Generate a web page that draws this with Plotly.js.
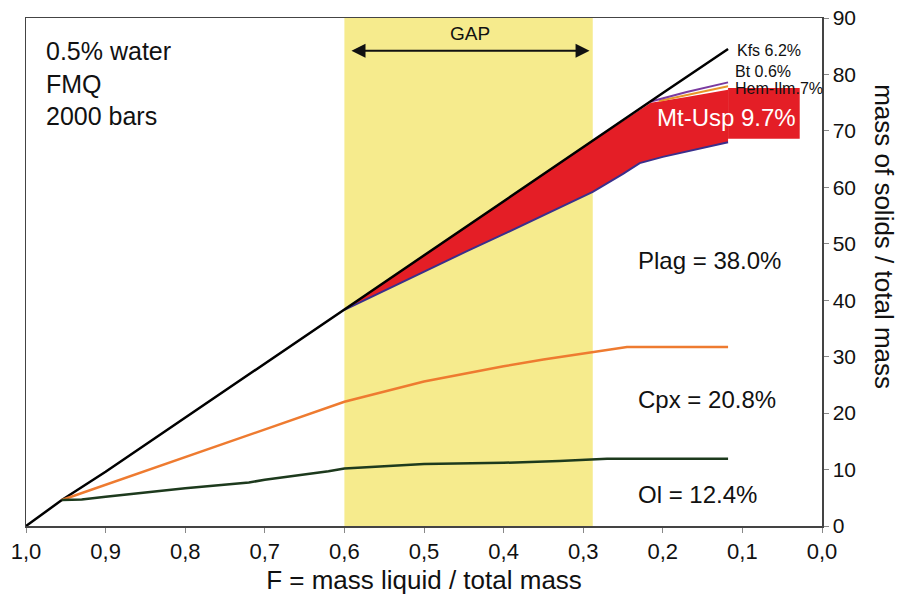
<!DOCTYPE html>
<html>
<head>
<meta charset="utf-8">
<script src="https://cdn.plot.ly/plotly-3.0.1.min.js"></script>
<style>html,body{margin:0;padding:0;background:#fff}#chart{width:907px;height:606px}</style>
</head>
<body>
<div id="chart"></div>
<script>
// ---- data (F = mass liquid / total mass, values = mass of solids / total mass) ----
const totalF   = [1.0, 0.955, 0.9, 0.8, 0.7, 0.6, 0.5, 0.4, 0.3, 0.2, 0.118];
const totalY   = [0, 4.6, 9.6, 19.2, 28.8, 38.3, 47.9, 57.5, 67.1, 76.7, 84.5];

const cpxF     = [0.955, 0.9, 0.8, 0.7, 0.6, 0.5, 0.4, 0.35, 0.3, 0.27, 0.245, 0.2, 0.118];
const cpxY     = [4.6, 7.3, 12.2, 17.2, 22.0, 25.6, 28.3, 29.5, 30.6, 31.2, 31.7, 31.7, 31.7];

const olF      = [0.955, 0.93, 0.9, 0.8, 0.72, 0.7, 0.62, 0.6, 0.5, 0.4, 0.33, 0.27, 0.2, 0.118];
const olY      = [4.6, 4.7, 5.2, 6.7, 7.7, 8.2, 9.7, 10.2, 11.0, 11.2, 11.5, 11.9, 11.9, 11.9];

const plagTopF = [0.6, 0.55, 0.5, 0.446, 0.4, 0.35, 0.3, 0.288, 0.25, 0.229, 0.2, 0.16, 0.118];
const plagTopY = [38.3, 41.7, 45.0, 48.7, 51.7, 55.1, 58.4, 59.2, 62.4, 64.3, 65.4, 66.7, 68.0];

const mtTopF   = [0.6, 0.5, 0.4, 0.3, 0.215, 0.17, 0.118];
const mtTopY   = [38.3, 47.9, 57.5, 67.1, 75.0, 76.0, 77.3];

const hemF     = [0.205, 0.17, 0.118];
const hemY     = [75.3, 76.4, 77.9];

const btF      = [0.215, 0.17, 0.118];
const btY      = [75.2, 76.9, 78.6];

const gapRange = [0.6, 0.288];
const mtLabelBox = {F: [0.118, 0.028], Y: [68.6, 77.6]};

const xTicks = [1.0, 0.9, 0.8, 0.7, 0.6, 0.5, 0.4, 0.3, 0.2, 0.1, 0.0];
const yTicks = [0, 10, 20, 30, 40, 50, 60, 70, 80, 90];

// ---- traces ----
const fillF = mtTopF.concat(plagTopF.slice().reverse());
const fillY = mtTopY.concat(plagTopY.slice().reverse());

const FONT = 'Liberation Sans, Arial, sans-serif';
const RED = '#e41e26';

const traces = [
  {x: fillF, y: fillY, mode: 'lines', fill: 'toself', fillcolor: RED,
   line: {width: 0, color: RED}, hoverinfo: 'skip'},
  {x: plagTopF, y: plagTopY, mode: 'lines', line: {color: '#3a2f8c', width: 2}},
  {x: hemF, y: hemY, mode: 'lines', line: {color: '#e8962a', width: 2}},
  {x: btF, y: btY, mode: 'lines', line: {color: '#7a3aa0', width: 2}},
  {x: totalF, y: totalY, mode: 'lines', line: {color: '#000000', width: 2.5}},
  {x: cpxF, y: cpxY, mode: 'lines', line: {color: '#ee7b30', width: 2.5}},
  {x: olF, y: olY, mode: 'lines', line: {color: '#1d3a1d', width: 2.5}}
];

const ann = (x, y, text, size, extra) => Object.assign({
  x: x, y: y, xref: 'x', yref: 'y', text: text, showarrow: false,
  font: {family: FONT, size: size, color: '#111'}, xanchor: 'left', yanchor: 'middle'
}, extra || {});

const layout = {
  width: 907, height: 606,
  margin: {l: 26, r: 85, t: 18, b: 80},
  paper_bgcolor: '#fff', plot_bgcolor: '#fff',
  showlegend: false,
  separators: ',.',
  font: {family: FONT, color: '#111'},
  xaxis: {
    range: [1.0, 0.0], tickvals: xTicks, tickformat: '.1f',
    showgrid: false, zeroline: false, showline: true, linecolor: '#444', linewidth: 1.5,
    mirror: true, ticks: 'outside', ticklen: 5, tickcolor: '#888',
    tickfont: {family: FONT, size: 22, color: '#111'},
    title: {text: 'F = mass liquid / total mass', font: {family: FONT, size: 26, color: '#111'}, standoff: 8}
  },
  yaxis: {
    range: [0, 90], tickvals: yTicks, side: 'right',
    showgrid: false, zeroline: false, showline: true, linecolor: '#444', linewidth: 1.5,
    mirror: true, ticks: 'outside', ticklen: 5, tickcolor: '#888',
    tickfont: {family: FONT, size: 21, color: '#111'}
  },
  shapes: [
    {type: 'rect', xref: 'x', yref: 'paper', x0: gapRange[0], x1: gapRange[1], y0: 0, y1: 1,
     fillcolor: '#f6eb8d', line: {width: 0}, layer: 'below'},
    {type: 'rect', xref: 'x', yref: 'y', x0: mtLabelBox.F[0], x1: mtLabelBox.F[1],
     y0: mtLabelBox.Y[0], y1: mtLabelBox.Y[1], fillcolor: RED, line: {width: 0}, layer: 'above'}
  ],
  annotations: [
    {xref: 'paper', yref: 'paper', x: 0.022, y: 0.967, xanchor: 'left', yanchor: 'top', align: 'left',
     showarrow: false, text: '0.5% water<br>FMQ<br>2000 bars',
     font: {family: FONT, size: 25, color: '#111'}},
    ann(0.442, 87.3, 'GAP', 19, {xanchor: 'center'}),
    {x: gapRange[1] + 0.004, y: 84.2, ax: gapRange[0] - 0.007, ay: 84.2, xref: 'x', yref: 'y',
     axref: 'x', ayref: 'y', text: '', showarrow: true, arrowside: 'end+start', arrowhead: 2,
     arrowsize: 1.4, arrowwidth: 2, arrowcolor: '#111'},
    ann(0.109, 84.3, 'Kfs 6.2%', 16),
    ann(0.112, 80.6, 'Bt 0.6%', 16),
    ann(0.112, 77.5, 'Hem-Ilm.7%', 16),
    ann(0.12, 72.4, 'Mt-Usp 9.7%', 24, {xanchor: 'center', font: {family: FONT, size: 24, color: '#ffffff'}}),
    ann(0.234, 47.0, 'Plag = 38.0%', 24),
    ann(0.234, 22.5, 'Cpx = 20.8%', 24),
    ann(0.234, 5.5, 'Ol = 12.4%', 24),
    {xref: 'paper', yref: 'paper', x: 1.077, y: 0.57, xanchor: 'center', yanchor: 'middle',
     showarrow: false, textangle: 90, text: 'mass of solids / total mass',
     font: {family: FONT, size: 26, color: '#111'}}
  ]
};

Plotly.newPlot('chart', traces, layout, {staticPlot: true, displayModeBar: false});
</script>
</body>
</html>
